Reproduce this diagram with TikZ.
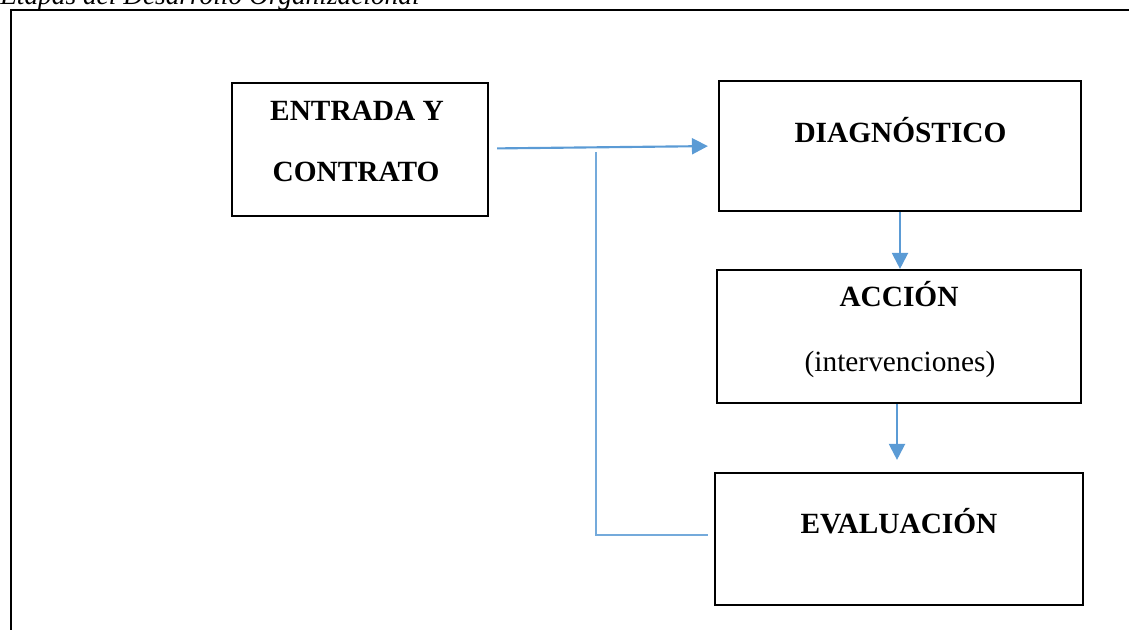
\documentclass[tikz,border=0pt]{standalone}
\usepackage{fontspec}
\setmainfont{Liberation Serif}
\usetikzlibrary{arrows.meta,calc}
\definecolor{arrowblue}{HTML}{5B9BD5}
\tikzset{
  box/.style={draw=black, line width=1.6pt, inner sep=0pt, rectangle},
  lbl/.style={anchor=base, inner sep=0pt, font=\fontsize{22}{26}\selectfont\bfseries},
  lblreg/.style={anchor=base, inner sep=0pt, font=\fontsize{22}{26}\selectfont},
  flow/.style={draw=arrowblue, line width=1.6pt, -{Triangle[length=12pt,width=12pt]}},
  fback/.style={draw=arrowblue!85, line width=1.1pt},
  frame/.style={draw=black, line width=1.5pt}
}
\begin{document}
\begin{tikzpicture}[x=0.75pt,y=-0.75pt]
\useasboundingbox (0,0) rectangle (1129,630);
\clip (0,0) rectangle (1129,630);
% caption (cut at top, as in the reference)
\node[anchor=base west, inner sep=0pt, font=\fontsize{20.5}{24}\selectfont\itshape] (cap) at (0,4.5) {Etapas del Desarrollo Organizacional};
% frame
\draw[frame] (11,660) -- (11,9.7) -- (1160,9.7);
% boxes
\node[box, minimum width=192pt, minimum height=99.75pt] (entrada) at (360,149.5) {};
\node[box, minimum width=271.5pt, minimum height=97.5pt] (diag) at (900,146) {};
\node[box, minimum width=273pt, minimum height=99.75pt] (accion) at (899,336.5) {};
\node[box, minimum width=276pt, minimum height=99pt] (eval) at (899,539) {};
% labels
\node[lbl] (t1) at (357,120.5) {ENTRADA Y};
\node[lbl] (t2) at (356,182) {CONTRATO};
\node[lbl] (t3) at (900.5,142.5) {DIAGNÓSTICO};
\node[lbl] (t4) at (899,306.5) {ACCIÓN};
\node[lblreg] (t5) at (900,372) {(intervenciones)};
\node[lbl] (t6) at (899,534) {EVALUACIÓN};
% connectors
\draw[flow, shorten <=6pt, shorten >=7.5pt] ($(entrada.east)+(0,-1)$) -- (diag.west);
\draw[flow] (diag.south) -- (diag.south |- accion.north);
\draw[flow, shorten >=9pt] ([xshift=-1.5pt]accion.south) -- ([xshift=-1.5pt]accion.south |- eval.north);
\coordinate (fb) at (596,152);
\draw[fback] (fb) |- ($(eval.west)+(-6,-4)$);
\end{tikzpicture}
\end{document}
